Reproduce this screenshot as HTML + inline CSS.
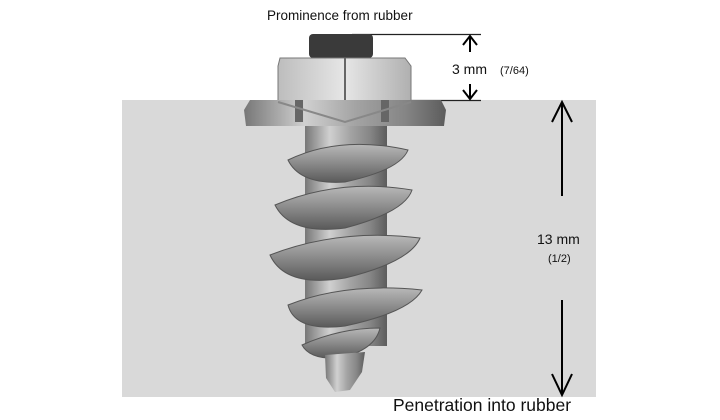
<!DOCTYPE html>
<html><head><meta charset="utf-8"><style>
html,body{margin:0;padding:0;background:#fff;width:720px;height:420px;overflow:hidden}
svg{display:block}
text{font-family:"Liberation Sans",Arial,sans-serif;fill:#111}
</style></head><body>
<svg width="720" height="420" viewBox="0 0 720 420" xmlns="http://www.w3.org/2000/svg">
<defs>
<linearGradient id="met" x1="0" x2="1" y1="0" y2="0">
<stop offset="0" stop-color="#777"/><stop offset="0.3" stop-color="#d0d0d0"/><stop offset="0.55" stop-color="#a4a4a4"/><stop offset="0.8" stop-color="#858585"/><stop offset="1" stop-color="#5c5c5c"/>
</linearGradient>
<linearGradient id="thr" x1="0" x2="0" y1="0" y2="1">
<stop offset="0" stop-color="#b8b8b8"/><stop offset="0.5" stop-color="#8a8a8a"/><stop offset="1" stop-color="#5a5a5a"/>
</linearGradient>
<linearGradient id="nut" x1="0" x2="1" y1="0" y2="0">
<stop offset="0" stop-color="#bdbdbd"/><stop offset="0.5" stop-color="#e6e6e6"/><stop offset="1" stop-color="#b0b0b0"/>
</linearGradient>
</defs>
<rect x="122" y="100" width="474" height="297" fill="#d9d9d9"/>
<line x1="352" y1="34.5" x2="481" y2="34.5" stroke="#222" stroke-width="1.3"/>
<line x1="405" y1="100.5" x2="481" y2="100.5" stroke="#222" stroke-width="1.3"/>
<g stroke="#000" stroke-width="2" fill="none">
<line x1="470" y1="36" x2="470" y2="52"/><polyline points="463,45 470,36 477,45"/>
<line x1="470" y1="84" x2="470" y2="99"/><polyline points="463,90 470,99 477,90"/>
<line x1="562" y1="102" x2="562" y2="196"/><polyline points="552,122 562,102 572,122"/>
<line x1="562" y1="300" x2="562" y2="395"/><polyline points="552,374 562,395 572,374"/>
</g>
<rect x="309" y="34" width="64" height="24" rx="4" fill="#3a3a3a"/>
<polygon points="280,58 405,58 411,66 411,102 278,102 278,66" fill="url(#nut)" stroke="#777"/>
<line x1="345" y1="58" x2="345" y2="120" stroke="#666" stroke-width="2"/>
<polygon points="250,100 441,100 446,110 444,126 246,126 244,110" fill="url(#met)"/>
<rect x="295" y="100" width="8" height="22" fill="#666"/>
<rect x="381" y="100" width="8" height="22" fill="#666"/>
<polyline points="278,102 345,122 411,102" fill="none" stroke="#888" stroke-width="2"/>
<rect x="305" y="126" width="82" height="220" fill="url(#met)"/>
<path d="M288,160 Q340,135 408,150 Q400,170 345,182 Q300,185 288,160Z" fill="url(#thr)" stroke="#555"/>
<path d="M275,205 Q340,178 412,190 Q405,212 345,228 Q290,235 275,205Z" fill="url(#thr)" stroke="#555"/>
<path d="M270,255 Q340,228 420,238 Q410,262 345,278 Q285,288 270,255Z" fill="url(#thr)" stroke="#555"/>
<path d="M288,305 Q345,282 422,290 Q410,312 345,326 Q295,332 288,305Z" fill="url(#thr)" stroke="#555"/>
<path d="M302,345 Q340,328 380,328 Q375,350 340,358 Q310,360 302,345Z" fill="url(#thr)" stroke="#555"/>
<path d="M325,355 L365,352 L362,372 L350,390 L335,392 L326,378 Z" fill="url(#met)"/>
<text x="267" y="20" font-size="13.5">Prominence from rubber</text>
<text x="452" y="74" font-size="14">3 mm</text>
<text x="500" y="74" font-size="11">(7/64)</text>
<text x="537" y="244" font-size="14">13 mm</text>
<text x="548" y="262" font-size="11">(1/2)</text>
<text x="393" y="411" font-size="17.5">Penetration into rubber</text>
</svg>
</body></html>
